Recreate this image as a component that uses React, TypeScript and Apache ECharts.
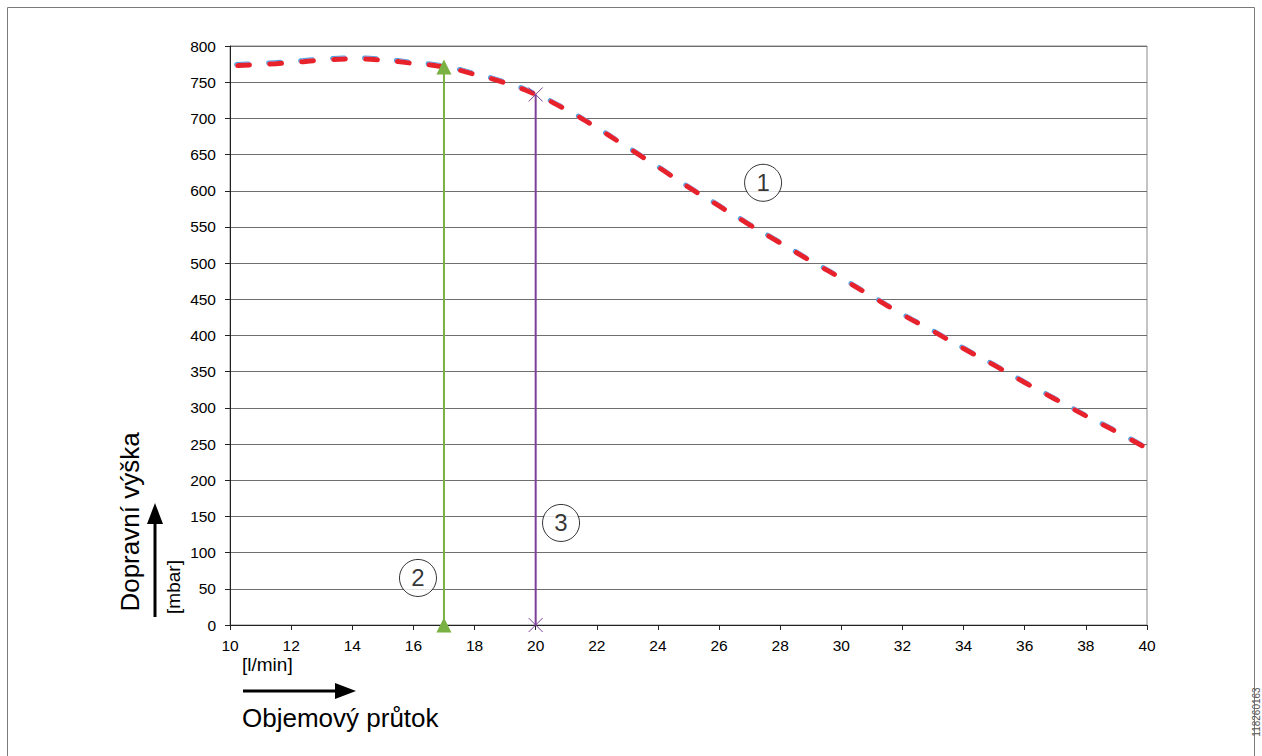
import React, { useEffect, useRef } from "react";
import * as echarts from "echarts";

const flowX = [10.25, 11, 12, 13, 14, 15, 16, 17, 18, 19, 20, 21, 22, 23, 24, 25, 26, 27, 28, 29, 30, 31, 32, 33, 34, 35, 36, 37, 38, 39, 40];
const headY = [773, 774.5, 777, 780.5, 782, 780.5, 776, 771, 761, 749, 733, 712, 687, 660, 633, 605, 579, 553, 528, 503, 479, 454, 429, 406, 382, 359, 335, 312, 289, 267, 244];
const greenLine = [[17, 0], [17, 771]];
const purpleLine = [[20, 0], [20, 733]];
const badges = [
  { name: "1", value: [27.44, 611] },
  { name: "2", value: [16.15, 65] },
  { name: "3", value: [20.83, 141] },
];
const yTitle = "Dopravní výška";
const yUnit = "[mbar]";
const xTitle = "Objemový průtok";
const xUnit = "[l/min]";
const docCode = "118260163";

const FONT = "'Liberation Sans', Arial, sans-serif";

export default function App() {
  const ref = useRef<HTMLDivElement>(null);
  useEffect(() => {
    if (!ref.current) return;
    const chart = echarts.init(ref.current, null, { renderer: "svg" });
    const curve = flowX.map((x, i) => [x, headY[i]]);
    chart.setOption({
      animation: false,
      backgroundColor: "#ffffff",
      textStyle: { fontFamily: FONT },
      grid: {
        left: 230,
        right: 115,
        top: 46,
        bottom: 131,
        show: true,
        borderColor: "#8a8a8a",
        borderWidth: 1,
      },
      xAxis: {
        type: "value",
        min: 10,
        max: 40,
        interval: 2,
        axisLine: { lineStyle: { color: "#222", width: 1 } },
        axisTick: { show: true, length: 5, lineStyle: { color: "#222" } },
        axisLabel: { color: "#000", fontSize: 15.5, margin: 12, fontFamily: FONT },
        splitLine: { show: false },
      },
      yAxis: {
        type: "value",
        min: 0,
        max: 800,
        interval: 50,
        axisLine: { show: true, lineStyle: { color: "#222", width: 1 } },
        axisTick: { show: true, length: 5, lineStyle: { color: "#222" } },
        axisLabel: { color: "#000", fontSize: 15.5, margin: 14, fontFamily: FONT },
        splitLine: { show: true, lineStyle: { color: "#6e6e6e", width: 1 } },
      },
      series: [
        {
          type: "line",
          data: curve,
          smooth: true,
          showSymbol: false,
          symbol: "none",
          z: 3,
          lineStyle: {
            color: "#e8202a",
            width: 5,
            type: [12, 20],
            cap: "round",
            shadowColor: "#4aa0e0",
            shadowBlur: 0,
            shadowOffsetY: -1,
            shadowOffsetX: -1,
          },
        },
        {
          type: "line",
          data: greenLine,
          symbol: "triangle",
          symbolSize: [15, 15],
          showSymbol: true,
          z: 4,
          lineStyle: { color: "#79b142", width: 2 },
          itemStyle: { color: "#79b142", borderWidth: 0 },
        },
        {
          type: "line",
          data: purpleLine,
          symbol: "path://M0,0L10,10M10,0L0,10",
          symbolSize: 14,
          showSymbol: true,
          z: 4,
          lineStyle: { color: "#7d3f98", width: 2 },
          itemStyle: { color: "none", borderColor: "#7d3f98", borderWidth: 1 },
        },
        {
          type: "scatter",
          data: badges,
          symbol: "circle",
          symbolSize: 37,
          z: 6,
          itemStyle: { color: "#ffffff", borderColor: "#000", borderWidth: 1 },
          label: {
            show: true,
            position: "inside",
            formatter: (p: any) => p.name,
            color: "#000",
            fontSize: 24,
            fontFamily: FONT,
          },
        },
      ],
      graphic: [
        {
          type: "rect",
          shape: { x: 7.5, y: 7.5, width: 1247, height: 770 },
          style: { fill: "none", stroke: "#7a7a7a", lineWidth: 1 },
          silent: true,
          z: -1,
        },
        {
          type: "text",
          x: 130,
          y: 522,
          rotation: Math.PI / 2,
          style: {
            text: yTitle,
            fontSize: 26,
            fontFamily: FONT,
            fill: "#000",
            align: "center",
            verticalAlign: "middle",
          },
        },
        {
          type: "text",
          x: 173,
          y: 587,
          rotation: Math.PI / 2,
          style: {
            text: yUnit,
            fontSize: 19,
            fontFamily: FONT,
            fill: "#000",
            align: "center",
            verticalAlign: "middle",
          },
        },
        {
          type: "line",
          shape: { x1: 155, y1: 617, x2: 155, y2: 520 },
          style: { stroke: "#000", lineWidth: 3 },
        },
        {
          type: "polygon",
          shape: { points: [[155, 503], [147, 524], [163, 524]] },
          style: { fill: "#000" },
        },
        {
          type: "text",
          x: 242,
          y: 664,
          style: {
            text: xUnit,
            fontSize: 19,
            fontFamily: FONT,
            fill: "#000",
            align: "left",
            verticalAlign: "middle",
          },
        },
        {
          type: "line",
          shape: { x1: 243, y1: 691, x2: 338, y2: 691 },
          style: { stroke: "#000", lineWidth: 3 },
        },
        {
          type: "polygon",
          shape: { points: [[356, 691], [335, 683], [335, 699]] },
          style: { fill: "#000" },
        },
        {
          type: "text",
          x: 242,
          y: 718,
          style: {
            text: xTitle,
            fontSize: 26,
            fontFamily: FONT,
            fill: "#000",
            align: "left",
            verticalAlign: "middle",
          },
        },
        {
          type: "text",
          x: 1256,
          y: 712,
          rotation: Math.PI / 2,
          style: {
            text: docCode,
            fontSize: 10,
            fontFamily: FONT,
            fill: "#555",
            align: "center",
            verticalAlign: "middle",
          },
        },
      ],
    });
    return () => chart.dispose();
  }, []);
  return (
    <div
      ref={ref}
      style={{ position: "fixed", left: 0, top: 0, width: 1262, height: 756, background: "#fff" }}
    />
  );
}
